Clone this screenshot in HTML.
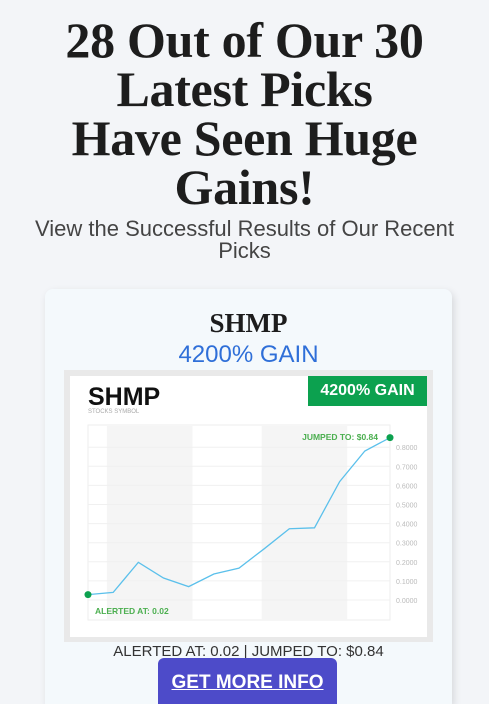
<!DOCTYPE html>
<html><head><meta charset="utf-8">
<style>
*{margin:0;padding:0;box-sizing:border-box}
html,body{width:489px;height:704px;overflow:hidden}
body{background:#f3f5f8;font-family:"Liberation Sans",sans-serif;position:relative}
.abs{position:absolute}
h1{position:absolute;left:0;width:489px;top:16px;text-align:center;font-family:"Liberation Serif",serif;font-weight:bold;font-size:50px;line-height:49px;color:#1d1d1d;letter-spacing:-0.3px}
.sub{left:0;width:489px;top:218px;text-align:center;font-size:22px;line-height:22px;color:#444}
.card{left:45px;top:289px;width:407px;height:415px;background:#f4f9fc;border-radius:8px 8px 0 0;box-shadow:2px 3px 8px rgba(0,0,0,0.12)}
</style></head><body>
<h1>28 Out of Our 30<br>Latest Picks<br>Have Seen Huge<br>Gains!</h1>
<div class="abs sub">View the Successful Results of Our Recent<br>Picks</div>
<div class="abs card"></div>
<div class="abs" style="left:45px;width:407px;top:308px;text-align:center;font-family:'Liberation Serif',serif;font-weight:bold;font-size:27px;color:#1d1d1d">SHMP</div>
<div class="abs" style="left:45px;width:407px;top:341px;text-align:center;font-size:24px;color:#2f6fd8">4200% GAIN</div>
<div class="abs" style="left:64px;top:370px;width:369px;height:272px;background:#e9e9e9"></div>
<div class="abs" style="left:70px;top:376px;width:357px;height:261px;background:#fff"></div>
<div class="abs" style="left:308px;top:376px;width:119px;height:30px;background:#0ca14f;color:#fff;font-weight:bold;font-size:16px;line-height:30px;text-align:center">4200% GAIN</div>
<div class="abs" style="left:88px;top:383px;font-weight:bold;font-size:25px;color:#111">SHMP</div>
<div class="abs" style="left:88px;top:409px;font-size:6px;color:#aaa">STOCKS SYMBOL</div>
<svg class="abs" style="left:0;top:0" width="489" height="704">
<g id="g"></g>
</svg>
<div class="abs" style="left:45px;width:407px;top:643px;text-align:center;font-size:15px;color:#333">ALERTED AT: 0.02 | JUMPED TO: $0.84</div>
<div class="abs" style="left:158px;top:658px;width:179px;height:60px;background:#4d4bc9;border-radius:6px;color:#fff;font-weight:bold;font-size:19px;text-align:center;padding-top:14px;text-decoration:underline">GET MORE INFO</div>
<script>
const prices=[0.028,0.04,0.197,0.115,0.07,0.136,0.167,0.268,0.373,0.378,0.62,0.78,0.85];
const ticks=[0,0.1,0.2,0.3,0.4,0.5,0.6,0.7,0.8];
const bands=[[0.75,4.15],[6.9,10.3]];
const X0=88,X1=390,Y0=600,PER=19.1;
const x=i=>X0+i*(X1-X0)/(prices.length-1);
const y=v=>Y0-v*10*PER;
const g=document.getElementById('g');
const NS='http://www.w3.org/2000/svg';
function mk(t,a){const e=document.createElementNS(NS,t);for(const k in a)e.setAttribute(k,a[k]);g.appendChild(e);return e;}
let r=mk('rect',{x:88,y:425,width:302,height:195,fill:'#fff',stroke:'#eee'});


bands.forEach(b=>{const e=mk('rect',{x:x(b[0]),y:426,width:x(b[1])-x(b[0]),height:194,fill:'#f5f5f5'});

});
ticks.forEach(t=>{const l=mk('line',{x1:88,x2:390,y1:y(t),y2:y(t),stroke:'#f0f0f0'});


const tx=mk('text',{x:396,y:y(t)+3,'font-size':7,fill:'#bbb','font-family':'Liberation Sans'});
tx.textContent=t.toFixed(4);

});
const p=mk('polyline',{points:prices.map((v,i)=>x(i)+','+y(v)).join(' '),fill:'none',stroke:'#5bc0eb','stroke-width':1.3});


[0,prices.length-1].forEach(i=>{const c=mk('circle',{cx:x(i),cy:y(prices[i]),r:3.5,fill:'#0ca14f'});

});
let a=mk('text',{x:95,y:614,'font-size':8.5,'font-weight':'bold',fill:'#4caf50','font-family':'Liberation Sans'});a.textContent='ALERTED AT: 0.02';


let j=mk('text',{x:378,y:440,'font-size':8.5,'font-weight':'bold',fill:'#4caf50','text-anchor':'end','font-family':'Liberation Sans'});j.textContent='JUMPED TO: $0.84';


</script>
</body></html>
